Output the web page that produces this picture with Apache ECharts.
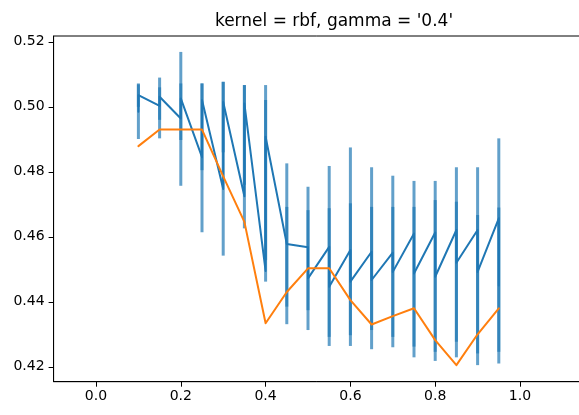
<!DOCTYPE html>
<html>
<head>
<meta charset="utf-8">
<script src="https://cdn.jsdelivr.net/npm/echarts@6/dist/echarts.min.js"></script>
<style>
  html, body { margin: 0; padding: 0; background: #fff; }
  #chart { width: 579px; height: 415px; }
</style>
</head>
<body>
<div id="chart"></div>
<script>
// C values on the x axis
const xValues = [0.1, 0.15, 0.2, 0.25, 0.3, 0.35, 0.4, 0.45, 0.5, 0.55, 0.6, 0.65, 0.7, 0.75, 0.8, 0.85, 0.9, 0.95];

// mean CV score, two runs per x (drawn in order: run A, run B)
const scoreA = [0.4985, 0.5003, 0.4964, 0.4845, 0.4747, 0.4725, 0.4495, 0.4578, 0.4568, 0.4569, 0.4559, 0.4554, 0.4551, 0.4610, 0.4613, 0.4621, 0.4621, 0.4657];
const scoreB = [0.5036, 0.5031, 0.5026, 0.5021, 0.5015, 0.5010, 0.4908, 0.4575, 0.4472, 0.4446, 0.4462, 0.4467, 0.4492, 0.4487, 0.4477, 0.4520, 0.4492, 0.4450];

// error bar extents (two bars per x)
const bar1Low  = [0.4901, 0.4903, 0.4757, 0.4614, 0.4542, 0.4626, 0.4462, 0.4385, 0.4374, 0.4292, 0.4297, 0.4313, 0.4292, 0.4262, 0.4246, 0.4277, 0.4241, 0.4246];
const bar1High = [0.5069, 0.5060, 0.5072, 0.5072, 0.5077, 0.5067, 0.5021, 0.4826, 0.4754, 0.4818, 0.4875, 0.4814, 0.4788, 0.4772, 0.4772, 0.4814, 0.4814, 0.4903];
const bar2Low  = [0.5000, 0.4960, 0.4898, 0.4805, 0.4860, 0.4760, 0.4528, 0.4331, 0.4313, 0.4264, 0.4264, 0.4254, 0.4260, 0.4229, 0.4218, 0.4229, 0.4205, 0.4210];
const bar2High = [0.5072, 0.5090, 0.5169, 0.5072, 0.5077, 0.5067, 0.5067, 0.4692, 0.4682, 0.4688, 0.4703, 0.4692, 0.4692, 0.4692, 0.4713, 0.4708, 0.4667, 0.4690];

// best test score per x
const testScore = [0.4879, 0.4930, 0.4930, 0.4930, 0.4786, 0.4646, 0.4334, 0.4430, 0.4503, 0.4503, 0.4405, 0.4330, 0.4356, 0.4380, 0.4282, 0.4205, 0.4300, 0.4380];

// tick labels
const xTicks = [0.0, 0.2, 0.4, 0.6, 0.8, 1.0];
const yTicks = [0.42, 0.44, 0.46, 0.48, 0.50, 0.52];

const titleText = "kernel = rbf, gamma = '0.4'";

const BLUE = '#1f77b4';
const ORANGE = '#ff7f0e';
const FONT = '"DejaVu Sans", sans-serif';

// build series data from the arrays
const meanLine = [];
xValues.forEach((x, i) => {
  meanLine.push([x, scoreA[i]]);
  meanLine.push([x, scoreB[i]]);
});
const errBars = [];
xValues.forEach((x, i) => {
  errBars.push([x, bar1Low[i], bar1High[i]]);
  errBars.push([x, bar2Low[i], bar2High[i]]);
});
const testLine = xValues.map((x, i) => [x, testScore[i]]);

const chart = echarts.init(document.getElementById('chart'), null, { renderer: 'canvas' });

chart.setOption({
  animation: false,
  backgroundColor: '#fff',
  title: {
    text: titleText,
    left: 329,
    textAlign: 'center',
    top: 8,
    textStyle: { fontFamily: FONT, fontSize: 17, fontWeight: 'normal', color: '#000' }
  },
  grid: {
    left: 53.6,
    top: 36,
    width: 551.2,
    height: 345.7,
    show: true,
    borderColor: '#000',
    borderWidth: 1,
    backgroundColor: 'transparent',
    containLabel: false,
    outerBoundsMode: 'none'
  },
  xAxis: {
    type: 'value',
    min: -0.1,
    max: 1.2,
    splitLine: { show: false },
    axisLine: { show: true, onZero: false, lineStyle: { color: '#000', width: 1 } },
    axisTick: {
      show: true, customValues: xTicks, length: 5,
      lineStyle: { color: '#000', width: 1 }
    },
    axisLabel: {
      customValues: xTicks, margin: 8,
      fontFamily: FONT, fontSize: 14, color: '#000',
      formatter: v => v.toFixed(1)
    }
  },
  yAxis: {
    type: 'value',
    min: 0.4154,
    max: 0.5218,
    splitLine: { show: false },
    axisLine: { show: true, onZero: false, lineStyle: { color: '#000', width: 1 } },
    axisTick: {
      show: true, customValues: yTicks, length: 5,
      lineStyle: { color: '#000', width: 1 }
    },
    axisLabel: {
      customValues: yTicks, margin: 9,
      fontFamily: FONT, fontSize: 14, color: '#000',
      formatter: v => v.toFixed(2)
    }
  },
  series: [
    {
      type: 'custom',
      name: 'errors',
      data: errBars,
      encode: { x: 0, y: [1, 2] },
      z: 2,
      renderItem: (params, api) => {
        const top = api.coord([api.value(0), api.value(2)]);
        const bot = api.coord([api.value(0), api.value(1)]);
        return {
          type: 'line',
          shape: { x1: top[0], y1: top[1], x2: bot[0], y2: bot[1] },
          style: { stroke: BLUE, lineWidth: 3, opacity: 0.7, lineCap: 'butt' }
        };
      }
    },
    {
      type: 'line',
      name: 'mean',
      data: meanLine,
      showSymbol: false,
      z: 3,
      lineStyle: { color: BLUE, width: 2, join: 'round', cap: 'round' },
      itemStyle: { color: BLUE }
    },
    {
      type: 'line',
      name: 'test',
      data: testLine,
      showSymbol: false,
      z: 4,
      lineStyle: { color: ORANGE, width: 2, join: 'round', cap: 'round' },
      itemStyle: { color: ORANGE }
    }
  ]
});
</script>
</body>
</html>
